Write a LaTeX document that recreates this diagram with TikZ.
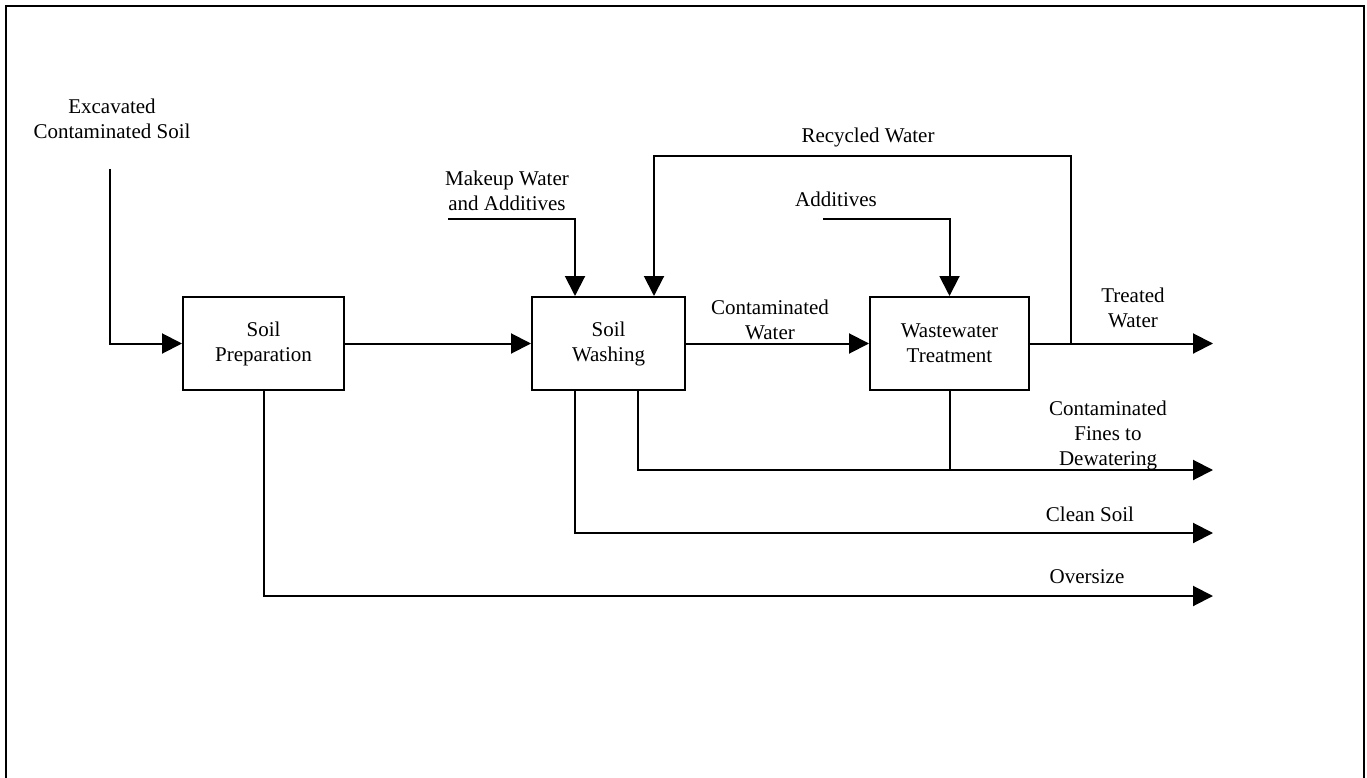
\documentclass[tikz,border=0pt]{standalone}
\usepackage{fontspec}
\setmainfont{Liberation Serif}
\usetikzlibrary{arrows.meta}
\begin{document}
\begin{tikzpicture}[x=1pt,y=-1pt,
  line width=2pt,
  procbox/.style={draw, rectangle, inner sep=0pt, minimum height=93pt, align=center, font=\fontsize{21}{25}\selectfont},
  lbl/.style={align=center, inner sep=0pt, font=\fontsize{21}{25}\selectfont},
  flow/.style={-{Triangle[length=20pt,width=20pt]}},
  plain/.style={line cap=rect}]
\useasboundingbox (0,0) rectangle (1367,778);
% outer frame
\draw (6,778) -- (6,6) -- (1364,6) -- (1364,778);
% process boxes
\node[procbox, minimum width=161pt] (sp) at (263.5,343.5) {Soil\\Preparation};
\node[procbox, minimum width=153pt] (sw) at (608.5,343.5) {Soil\\Washing};
\node[procbox, minimum width=159pt] (wt) at (949.5,343.5) {Wastewater\\Treatment};
% free ends
\coordinate (exs) at (110,169);
\coordinate (mks) at (448,219);
\coordinate (ads) at (823,219);
\coordinate (jt) at (1071,343.5);
\coordinate (rtop) at (1071,156);
\coordinate (twe) at (1213,343.5);
\coordinate (fne) at (1213,470);
\coordinate (cse) at (1213,533);
\coordinate (ove) at (1213,596);
% labels
\node[lbl] (lex) at (112,119) {Excavated\\Contaminated Soil};
\node[lbl] (lmk) at (507,191) {Makeup Water\\and Additives};
\node[lbl] (lrw) at (868,137) {Recycled Water};
\node[lbl] (lad) at (836,199) {Additives};
\node[lbl] (lcw) at (770,320) {Contaminated\\Water};
\node[lbl] (ltw) at (1133,308) {Treated\\Water};
\node[lbl] (lfn) at (1108,435) {Contaminated\\Fines to\\Dewatering};
\node[lbl] (lcs) at (1090,514) {Clean Soil};
\node[lbl] (lov) at (1087,577) {Oversize};
% connectors
\draw[flow] (exs) |- (sp.west);
\draw[flow] (sp.east) -- (sw.west);
\draw[flow] (mks) -| ([xshift=-33.5pt]sw.north);
\draw[flow] (sw.east) -- (wt.west);
\draw[flow] (ads) -| (wt.north);
\draw[flow] (wt.east) -- (twe);
\draw[flow] (jt) -- (rtop) -| ([xshift=45.5pt]sw.north);
\draw[flow] ([xshift=29.5pt]sw.south) |- (fne);
\draw (wt.south) -- (wt.south |- fne);
\draw[flow] ([xshift=-33.5pt]sw.south) |- (cse);
\draw[flow] (sp.south) |- (ove);
\end{tikzpicture}
\end{document}
